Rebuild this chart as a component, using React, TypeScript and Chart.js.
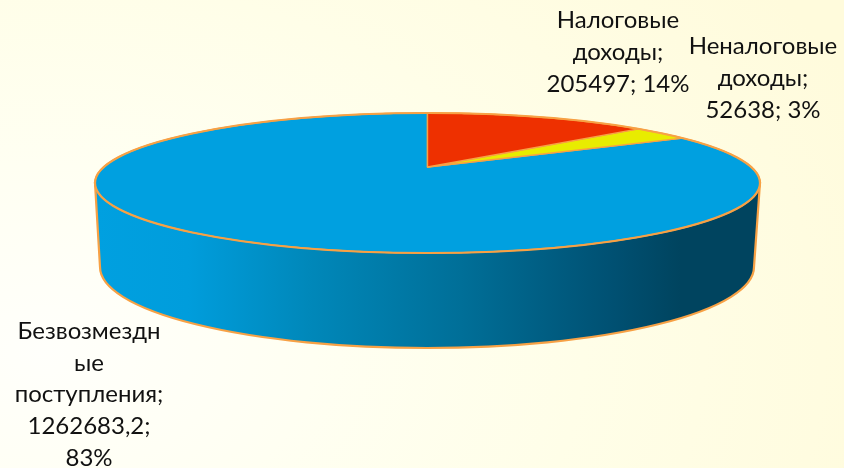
import React, { useEffect, useRef } from "react";
import { Chart, registerables } from "chart.js";

Chart.register(...registerables);

const categories = ["Налоговые доходы", "Неналоговые доходы", "Безвозмездные поступления"];
const seriesValues = [205497, 52638, 1262683.2];
const sliceColors = ["#EE3000", "#E8EC00", "#00A0E0"];
const wrappedLabels = [
  ["Налоговые", "доходы;", "205497; 14%"],
  ["Неналоговые", "доходы;", "52638; 3%"],
  ["Безвозмездн", "ые", "поступления;", "1262683,2;", "83%"],
];

const labelAnchors = [
  { x: 618, y: 20, lh: 32 },
  { x: 763, y: 46, lh: 32 },
  { x: 89, y: 331, lh: 31.8 },
];
const TOP = { cx: 427.5, cy: 183, rx: 332.5, ry: 70 };
const APEX_Y = 167;
const BASE = { cx: 427, cy: 267, rx: 327, ry: 81 };
const RIM = "#F7A145";

const k = (APEX_Y - TOP.cy) / TOP.ry;
const project = (a: number) => {
  const u = Math.cos(a);
  const v = Math.sin(a);
  const d = 1 + k * v;
  return {
    x: TOP.cx + (TOP.rx * u * Math.sqrt(1 - k * k)) / d,
    y: TOP.cy + (TOP.ry * (v + k)) / d,
  };
};

const pie3d = {
  id: "pie3d",
  beforeDatasetsDraw(chart: any) {
    const { ctx } = chart;
    ctx.save();
    const g = ctx.createLinearGradient(95, 0, 760, 0);
    g.addColorStop(0, "#00A0E0");
    g.addColorStop(0.14, "#009DDC");
    g.addColorStop(0.32, "#0088BA");
    g.addColorStop(0.55, "#006F98");
    g.addColorStop(0.78, "#005072");
    g.addColorStop(0.88, "#00445F");
    g.addColorStop(1, "#00445F");
    ctx.beginPath();
    ctx.moveTo(TOP.cx + TOP.rx, TOP.cy);
    ctx.lineTo(BASE.cx + BASE.rx, BASE.cy);
    ctx.ellipse(BASE.cx, BASE.cy, BASE.rx, BASE.ry, 0, 0, Math.PI);
    ctx.lineTo(TOP.cx - TOP.rx, TOP.cy);
    ctx.closePath();
    ctx.fillStyle = g;
    ctx.fill();
    ctx.strokeStyle = RIM;
    ctx.lineWidth = 2.2;
    ctx.stroke();
    ctx.restore();
  },
  beforeDatasetDraw(chart: any, args: any) {
    const { ctx } = chart;
    const arcs = chart.getDatasetMeta(args.index).data;
    ctx.save();
    ctx.lineJoin = "round";
    [2, 1, 0].forEach((i) => {
      const arc = arcs[i];
      const opts = arc.options;
      const start = arc.startAngle;
      const end = arc.endAngle;
      const steps = Math.max(4, Math.ceil((end - start) / 0.01));
      ctx.beginPath();
      ctx.moveTo(TOP.cx, APEX_Y);
      for (let s = 0; s <= steps; s++) {
        const p = project(start + ((end - start) * s) / steps);
        ctx.lineTo(p.x, p.y);
      }
      ctx.closePath();
      ctx.fillStyle = opts.backgroundColor;
      ctx.fill();
      ctx.strokeStyle = opts.borderColor;
      ctx.lineWidth = opts.borderWidth;
      ctx.stroke();
    });
    ctx.beginPath();
    ctx.ellipse(TOP.cx, TOP.cy, TOP.rx, TOP.ry, 0, 0, Math.PI * 2);
    ctx.strokeStyle = RIM;
    ctx.lineWidth = 2.2;
    ctx.stroke();
    ctx.restore();
    return false;
  },
  afterDraw(chart: any) {
    const { ctx } = chart;
    ctx.save();
    ctx.font = '24px Lato, "Noto Sans", sans-serif';
    ctx.fillStyle = "#111111";
    ctx.textAlign = "center";
    ctx.textBaseline = "middle";
    wrappedLabels.forEach((lines, i) => {
      const a = labelAnchors[i];
      lines.forEach((line, j) => ctx.fillText(line, a.x, a.y + j * a.lh));
    });
    ctx.restore();
  },
};

export default function App() {
  const ref = useRef<HTMLCanvasElement>(null);
  useEffect(() => {
    const chart = new Chart(ref.current as HTMLCanvasElement, {
      type: "pie",
      data: {
        labels: categories,
        datasets: [
          {
            data: seriesValues,
            backgroundColor: sliceColors,
            borderColor: RIM,
            borderWidth: 1.4,
          },
        ],
      },
      options: {
        responsive: false,
        animation: false,
        plugins: { legend: { display: false }, tooltip: { enabled: false } },
      },
      plugins: [pie3d],
    } as any);
    return () => chart.destroy();
  }, []);
  return (
    <div
      style={{
        position: "fixed",
        left: 0,
        top: 0,
        width: 844,
        height: 468,
        background:
          "radial-gradient(ellipse 900px 620px at 5% 75%, #FFFFFB 0%, #FFFFF2 30%, #FFFEE8 60%, #FFFBDC 100%)",
      }}
    >
      <canvas ref={ref} width={844} height={468} style={{ display: "block" }} />
    </div>
  );
}
